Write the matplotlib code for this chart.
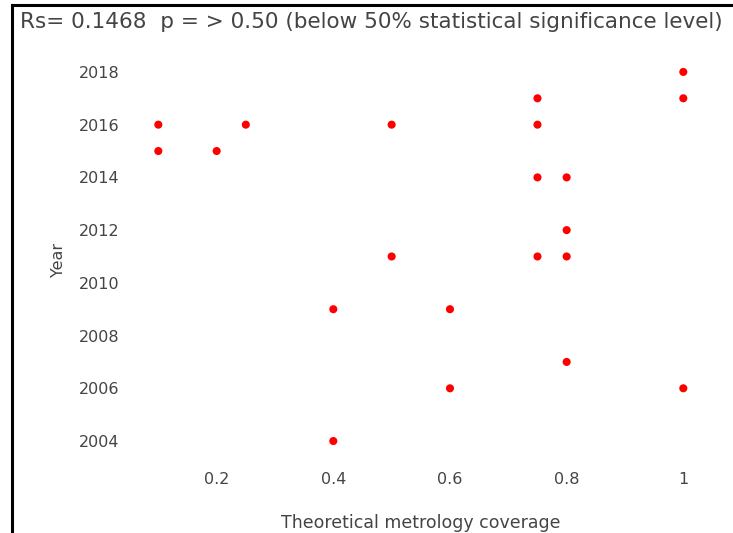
import matplotlib
matplotlib.use('Agg')
import matplotlib.pyplot as plt
from matplotlib.lines import Line2D

# coverage vs. year
coverage = [1.0, 1.0, 0.75, 0.75, 0.1, 0.25, 0.5, 0.1, 0.2, 0.75, 0.8,
            0.8, 0.5, 0.75, 0.8, 0.4, 0.6, 0.8, 0.6, 1.0, 0.4]
years = [2018, 2017, 2017, 2016, 2016, 2016, 2016, 2015, 2015, 2014, 2014,
         2012, 2011, 2011, 2011, 2009, 2009, 2007, 2006, 2006, 2004]

xticks = [0.2, 0.4, 0.6, 0.8, 1.0]
xticklabels = ['0.2', '0.4', '0.6', '0.8', '1']
yticks = [2004, 2006, 2008, 2010, 2012, 2014, 2016, 2018]

title = 'Rs= 0.1468  p = > 0.50 (below 50% statistical significance level)'

fig = plt.figure(figsize=(7.33, 5.33), dpi=100)
ax = fig.add_axes([0.1762, 0.1231, 0.7958, 0.7914])

ax.scatter(coverage, years, s=34, color='#ff0000', edgecolors='none', zorder=3)

ax.set_xlim(0.05, 1.05)
ax.set_ylim(2003, 2019)
ax.set_xticks(xticks)
ax.set_xticklabels(xticklabels)
ax.set_yticks(yticks)
ax.tick_params(length=0, labelsize=11.5, labelcolor='#444444')
ax.tick_params(axis='y', pad=7)
ax.tick_params(axis='x', pad=3)
for s in ax.spines.values():
    s.set_visible(False)

ax.set_xlabel('Theoretical metrology coverage', fontsize=12.5, color='#444444')
ax.set_ylabel('Year', fontsize=11.5, color='#444444')
ax.xaxis.set_label_coords(0.50, -0.111)
ax.yaxis.set_label_coords(-0.108, 0.4917)

fig.text(20 / 733, 1 - 22 / 533, title, fontsize=15.5, color='#444444',
         ha='left', va='center')

# black frame lines on left and top
fig.add_artist(Line2D([12 / 733, 12 / 733], [0, 1 - 5 / 533], color='black', lw=2.2))
fig.add_artist(Line2D([12 / 733, 1], [1 - 5 / 533, 1 - 5 / 533], color='black', lw=2.2))

fig.savefig('out.png', dpi=100)
